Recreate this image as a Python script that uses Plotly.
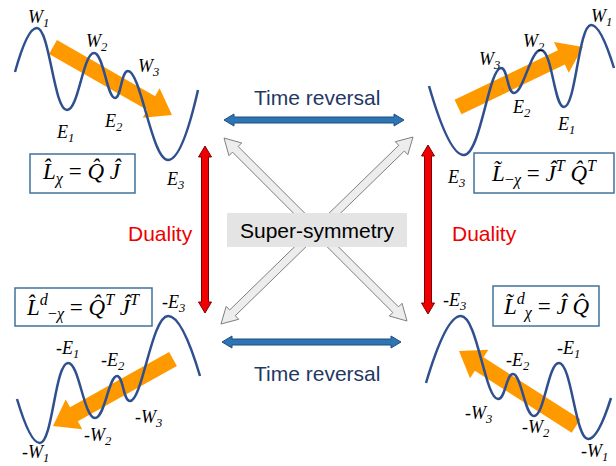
import numpy as np
import plotly.graph_objects as go

# ---------------- data: potential curves (extrema points, pixel space) ----------------
tl_x = [15, 37, 67, 94, 115, 128, 168, 198]
tl_y = [72, 28, 110, 53, 98, 71, 160, 90]
tr_x = [429, 464, 501, 514, 541, 564, 591, 614]
tr_y = [86, 155, 68, 93, 50, 107, 25, 68]
bl_x = [17, 40, 68, 95, 117, 130, 168, 200]
bl_y = [399, 443, 363, 418, 376, 401, 316, 376]
br_x = [426, 461, 498, 513, 534, 559, 588, 611]
br_y = [383, 316, 399, 374, 416, 363, 439, 398]

# labels
tl_labels = ["W<sub>1</sub>", "W<sub>2</sub>", "W<sub>3</sub>", "E<sub>1</sub>", "E<sub>2</sub>", "E<sub>3</sub>"]
tl_lx = [38, 97, 148, 65, 113, 175]
tl_ly = [18, 42, 67, 133, 122, 180]
tr_labels = ["W<sub>1</sub>", "W<sub>2</sub>", "W<sub>3</sub>", "E<sub>2</sub>", "E<sub>1</sub>", "E<sub>3</sub>"]
tr_lx = [601, 534, 489, 521, 566, 456]
tr_ly = [17, 42, 60, 108, 125, 178]
bl_labels = ["-E<sub>3</sub>", "-E<sub>1</sub>", "-E<sub>2</sub>", "-W<sub>3</sub>", "-W<sub>2</sub>", "-W<sub>1</sub>"]
bl_lx = [173, 67, 113, 148, 98, 35]
bl_ly = [303, 349, 361, 418, 436, 453]
br_labels = ["-E<sub>3</sub>", "-E<sub>2</sub>", "-E<sub>1</sub>", "-W<sub>3</sub>", "-W<sub>2</sub>", "-W<sub>1</sub>"]
br_lx = [454, 518, 568, 478, 536, 594]
br_ly = [301, 361, 349, 414, 428, 452]

formulas = [
    "<i>L̂</i><sub><i>χ</i></sub> = <i>Q̂ Ĵ</i>",
    "<i>L̃</i><sub>−<i>χ</i></sub> = <i>Ĵ</i><sup><i>T</i></sup> <i>Q̂</i><sup><i>T</i></sup>",
    "<i>L̂</i><sup><i>d</i></sup><sub>−<i>χ</i></sub> = <i>Q̂</i><sup><i>T</i></sup> <i>Ĵ</i><sup><i>T</i></sup>",
    "<i>L̃</i><sup><i>d</i></sup><sub><i>χ</i></sub> = <i>Ĵ Q̂</i>",
]

# ---------------- geometry helpers ----------------
def arrow_poly(x0, y0, x1, y1, w, hw, hl, double=False):
    dx, dy = x1 - x0, y1 - y0
    L = np.hypot(dx, dy)
    ux, uy = dx / L, dy / L
    nx, ny = -uy, ux
    def p(bx, by, s):
        return (bx + nx * s, by + ny * s)
    b1 = (x1 - ux * hl, y1 - uy * hl)
    if double:
        b0 = (x0 + ux * hl, y0 + uy * hl)
        pts = [(x0, y0), p(*b0, hw / 2), p(*b0, w / 2), p(*b1, w / 2), p(*b1, hw / 2), (x1, y1),
               p(*b1, -hw / 2), p(*b1, -w / 2), p(*b0, -w / 2), p(*b0, -hw / 2), (x0, y0)]
    else:
        pts = [p(x0, y0, w / 2), p(*b1, w / 2), p(*b1, hw / 2), (x1, y1), p(*b1, -hw / 2),
               p(*b1, -w / 2), p(x0, y0, -w / 2), p(x0, y0, w / 2)]
    xs = [q[0] for q in pts]
    ys = [q[1] for q in pts]
    return xs, ys

fig = go.Figure()

def add_arrow(x0, y0, x1, y1, w, hw, hl, fill, line, lw, double=False):
    xs, ys = arrow_poly(x0, y0, x1, y1, w, hw, hl, double)
    fig.add_trace(go.Scatter(x=xs, y=ys, mode="lines", fill="toself", fillcolor=fill,
                             line=dict(color=line, width=lw), hoverinfo="skip", showlegend=False))

ORANGE = "#FF9900"
# orange arrows (under curves)
add_arrow(53, 47, 172, 115, 16, 34, 24, ORANGE, ORANGE, 0)
add_arrow(458, 107, 583, 47, 16, 34, 24, ORANGE, ORANGE, 0)
add_arrow(173, 359, 53, 426, 16, 34, 24, ORANGE, ORANGE, 0)
add_arrow(576, 426, 459, 351, 16, 34, 24, ORANGE, ORANGE, 0)

# curves
CURVE = "#2F4F8E"
for xs, ys in [(tl_x, tl_y), (tr_x, tr_y), (bl_x, bl_y), (br_x, br_y)]:
    fig.add_trace(go.Scatter(x=xs, y=ys, mode="lines", line=dict(color=CURVE, width=2.5, shape="spline", smoothing=1.3),
                             hoverinfo="skip", showlegend=False))

# blue time-reversal arrows
add_arrow(224, 120, 404, 120, 6, 12, 10, "#2E75B6", "#1F4E79", 1, double=True)
add_arrow(222, 342, 401, 342, 6, 12, 10, "#2E75B6", "#1F4E79", 1, double=True)
# red duality arrows
add_arrow(205, 146, 205, 313, 7, 13, 11, "#F00000", "#7F0000", 1, double=True)
add_arrow(428, 145, 428, 314, 7, 13, 11, "#F00000", "#7F0000", 1, double=True)
# grey super-symmetry arrows
add_arrow(224, 138, 407, 321, 8, 18, 16, "#EDEDED", "#7F7F7F", 1, double=True)
add_arrow(413, 137, 221, 324, 8, 18, 16, "#EDEDED", "#7F7F7F", 1, double=True)

shapes = [
    dict(type="rect", x0=227, y0=213, x1=407, y1=247, fillcolor="#E4E4E4", line=dict(width=0), layer="above"),
    dict(type="rect", x0=30, y0=154, x1=135, y1=193, fillcolor="white", line=dict(color="#41719C", width=1.5)),
    dict(type="rect", x0=474, y0=153, x1=614, y1=193, fillcolor="white", line=dict(color="#41719C", width=1.5)),
    dict(type="rect", x0=15, y0=288, x1=152, y1=326, fillcolor="white", line=dict(color="#41719C", width=1.5)),
    dict(type="rect", x0=493, y0=286, x1=599, y1=326, fillcolor="white", line=dict(color="#41719C", width=1.5)),
]

ann = []
LF = dict(family="Liberation Serif", size=18, color="black")
for labs, lx, ly in [(tl_labels, tl_lx, tl_ly), (tr_labels, tr_lx, tr_ly), (bl_labels, bl_lx, bl_ly), (br_labels, br_lx, br_ly)]:
    for t, x, y in zip(labs, lx, ly):
        ann.append(dict(x=x, y=y, text="<i>" + t + "</i>", showarrow=False, font=LF, xanchor="center", yanchor="middle"))

FF = dict(family="Liberation Serif", size=23, color="black")
for t, (x, y) in zip(formulas, [(82, 173), (544, 173), (83, 307), (546, 306)]):
    ann.append(dict(x=x, y=y, text=t, showarrow=False, font=FF, xanchor="center", yanchor="middle"))

SF = dict(family="Liberation Sans", size=21)
ann.append(dict(x=317, y=97, text="Time reversal", showarrow=False, font=dict(SF, color="#1F3864")))
ann.append(dict(x=317, y=373, text="Time reversal", showarrow=False, font=dict(SF, color="#1F3864")))
ann.append(dict(x=160, y=233, text="Duality", showarrow=False, font=dict(SF, color="#EE0000")))
ann.append(dict(x=484, y=233, text="Duality", showarrow=False, font=dict(SF, color="#EE0000")))
ann.append(dict(x=317, y=230, text="Super-symmetry", showarrow=False, font=dict(SF, color="black")))

fig.update_layout(
    width=616, height=466, margin=dict(l=0, r=0, t=0, b=0),
    paper_bgcolor="white", plot_bgcolor="white",
    xaxis=dict(range=[0, 616], visible=False, fixedrange=True),
    yaxis=dict(range=[466, 0], visible=False, fixedrange=True),
    shapes=shapes, annotations=ann, showlegend=False,
)
fig.write_html("out.html", config=dict(displayModeBar=False),
               post_script="document.body.style.margin='0';document.body.style.overflow='hidden';")
